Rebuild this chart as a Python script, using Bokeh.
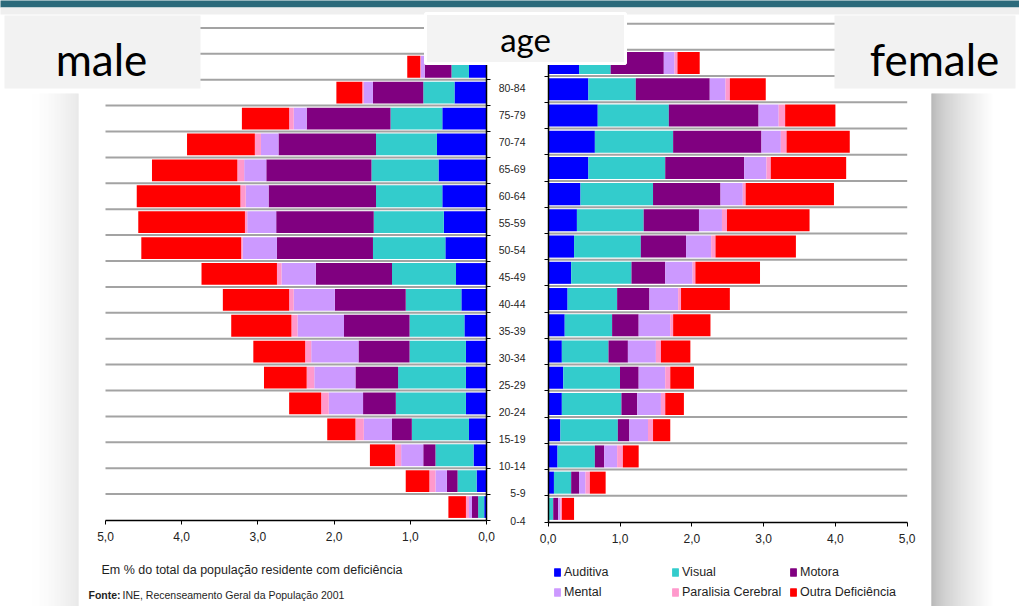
import numpy as np
from bokeh.plotting import figure
from bokeh.models import (Range1d, LinearAxis, FixedTicker, CustomJSTickFormatter,
                          ColumnDataSource, Legend, LegendItem)
from bokeh.core.properties import value
from bokeh.embed import file_html
from bokeh.resources import INLINE

# ---------------- data ----------------
ages = ["0-4", "5-9", "10-14", "15-19", "20-24", "25-29", "30-34", "35-39", "40-44",
        "45-49", "50-54", "55-59", "60-64", "65-69", "70-74", "75-79", "80-84", "85-89"]
series = ["Auditiva", "Visual", "Motora", "Mental", "Paralisia Cerebral", "Outra Deficiência"]
colors = ["#0000ff", "#33cccc", "#800080", "#cc99ff", "#ff99cc", "#ff0000"]
x_ticks = [0, 1, 2, 3, 4, 5]
x_tick_labels = ["0,0", "1,0", "2,0", "3,0", "4,0", "5,0"]

male_auditiva  = [0.03, 0.13, 0.17, 0.23, 0.27, 0.27, 0.27, 0.29, 0.33, 0.40, 0.54, 0.56, 0.58, 0.63, 0.65, 0.58, 0.42, 0.23]
male_visual    = [0.08, 0.25, 0.50, 0.75, 0.92, 0.89, 0.74, 0.72, 0.73, 0.84, 0.95, 0.92, 0.87, 0.88, 0.80, 0.68, 0.41, 0.23]
male_motora    = [0.08, 0.14, 0.16, 0.26, 0.43, 0.56, 0.67, 0.86, 0.93, 1.00, 1.26, 1.28, 1.41, 1.38, 1.28, 1.10, 0.66, 0.35]
male_mental    = [0.04, 0.15, 0.29, 0.37, 0.45, 0.54, 0.62, 0.61, 0.54, 0.45, 0.45, 0.38, 0.30, 0.29, 0.23, 0.17, 0.12, 0.05]
male_paralisia = [0.04, 0.08, 0.08, 0.11, 0.10, 0.10, 0.08, 0.08, 0.06, 0.06, 0.02, 0.03, 0.07, 0.09, 0.08, 0.06, 0.02, 0.01]
male_outra     = [0.23, 0.31, 0.33, 0.37, 0.42, 0.56, 0.68, 0.79, 0.87, 0.99, 1.31, 1.40, 1.36, 1.12, 0.89, 0.62, 0.34, 0.17]

female_auditiva  = [0.01, 0.08, 0.13, 0.17, 0.19, 0.21, 0.19, 0.23, 0.27, 0.32, 0.36, 0.40, 0.45, 0.56, 0.65, 0.69, 0.56, 0.43]
female_visual    = [0.06, 0.24, 0.52, 0.80, 0.83, 0.79, 0.65, 0.66, 0.69, 0.84, 0.93, 0.93, 1.01, 1.07, 1.09, 0.99, 0.66, 0.44]
female_motora    = [0.07, 0.11, 0.13, 0.16, 0.22, 0.26, 0.27, 0.37, 0.45, 0.47, 0.63, 0.77, 0.94, 1.10, 1.23, 1.25, 1.03, 0.74]
female_mental    = [0.03, 0.09, 0.18, 0.26, 0.33, 0.37, 0.39, 0.44, 0.40, 0.38, 0.35, 0.32, 0.31, 0.31, 0.27, 0.28, 0.22, 0.15]
female_paralisia = [0.02, 0.06, 0.08, 0.07, 0.06, 0.07, 0.07, 0.04, 0.04, 0.04, 0.06, 0.07, 0.04, 0.06, 0.08, 0.09, 0.06, 0.04]
female_outra     = [0.17, 0.22, 0.22, 0.24, 0.26, 0.33, 0.41, 0.52, 0.68, 0.90, 1.12, 1.15, 1.23, 1.05, 0.88, 0.70, 0.50, 0.31]

male = [male_auditiva, male_visual, male_motora, male_mental, male_paralisia, male_outra]
female = [female_auditiva, female_visual, female_motora, female_mental, female_paralisia, female_outra]

# ---------------- layout (pixel anchors of the page) ----------------
W, H = 1019, 606
L0, L5 = 486.0, 105.0          # left panel: x pixel of 0 and of 5
R0, R5 = 547.7, 906.7          # right panel: x pixel of 0 and of 5
LB, LS = 519.5, 25.9           # left panel: baseline y pixel, row pitch
RB, RS = 521.5, 26.23          # right panel
TB, TS = 520.0, 27.04          # age labels column
SANS = value("Liberation Sans")
TITLEF = value("Lato")

kL = (L0 - L5) / 5.0
kR = (R5 - R0) / 5.0

p = figure(width=W, height=H, x_range=Range1d(0, W), y_range=Range1d(H, 0),
           x_axis_type=None, y_axis_type=None, toolbar_location=None,
           output_backend="svg", min_border=0, title=None)
p.outline_line_color = None
p.background_fill_color = "white"
p.border_fill_color = "white"

p.extra_x_ranges = {
    "L": Range1d(start=(0 - L0) / kL, end=(W - L0) / kL),
    "R": Range1d(start=(0 - R0) / kR, end=(W - R0) / kR),
}
p.extra_y_ranges = {
    "ageL": Range1d(start=(LB - H) / LS - 0.5, end=LB / LS - 0.5),
    "ageR": Range1d(start=(RB - H) / RS - 0.5, end=RB / RS - 0.5),
    "lab": Range1d(start=(TB - H) / TS, end=TB / TS),
}

n = len(ages)
idx = list(range(n))

# ---------------- page decoration: side shadows ----------------
gl, gr, gc = [], [], []
for px in range(0, 78):
    t = max(0.0, (px - 28) / 50.0)
    g = int(round(255 - 30 * t ** 1.6))
    gl.append(px); gr.append(px + 1); gc.append("#%02x%02x%02x" % (g, g, g))
for px in range(931, W):
    t = min(1.0, (px - 931) / 62.0)
    g = int(round(158 + 97 * t ** 0.65))
    gl.append(px); gr.append(px + 1); gc.append("#%02x%02x%02x" % (g, g, g))
p.quad(left=gl, right=gr, top=93, bottom=H, fill_color=gc, line_color=None)

# ---------------- gridlines ----------------
bL = [k - 0.5 for k in range(1, n + 2)]
p.segment(x0=-5, x1=0, y0=bL, y1=bL, line_color="#a3a3a3", line_width=2,
          x_range_name="L", y_range_name="ageL")
p.segment(x0=0, x1=5, y0=bL, y1=bL, line_color="#a3a3a3", line_width=2,
          x_range_name="R", y_range_name="ageR")

# ---------------- bars ----------------
dataL = {"idx": idx}
dataR = {"idx": idx}
for name, m, f in zip(series, male, female):
    dataL[name] = [-v for v in m]
    dataR[name] = list(f)
srcL = ColumnDataSource(dataL)
srcR = ColumnDataSource(dataR)
rendL = p.hbar_stack(series, y="idx", height=0.84, fill_color=colors, line_color=None,
                     source=srcL, x_range_name="L", y_range_name="ageL")
rendR = p.hbar_stack(series, y="idx", height=0.84, fill_color=colors, line_color=None,
                     source=srcR, x_range_name="R", y_range_name="ageR")

# ---------------- age labels ----------------
p.text(x=[525] * n, y=idx, text=ages, y_range_name="lab", text_align="right",
       text_baseline="middle", text_font=SANS, text_font_size="10.5px", text_color="#262626")

# ---------------- axes ----------------
def style_x(ax):
    ax.axis_line_color = "black"
    ax.axis_line_width = 1.5
    ax.major_tick_line_color = "black"
    ax.major_tick_out = 4
    ax.major_tick_in = 0
    ax.minor_tick_line_color = None
    ax.major_label_text_font = "Liberation Sans"
    ax.major_label_text_font_size = "12px"
    ax.major_label_text_color = "#222222"
    ax.major_label_standoff = 8

axL = LinearAxis(x_range_name="L", y_range_name="ageL", fixed_location=-0.5,
                 bounds=(-5, 0), ticker=FixedTicker(ticks=[-t for t in x_ticks]),
                 major_label_overrides={-t: lab for t, lab in zip(x_ticks, x_tick_labels)})
style_x(axL)
p.add_layout(axL, "below")
axR = LinearAxis(x_range_name="R", y_range_name="ageR", fixed_location=-0.5,
                 bounds=(0, 5), ticker=FixedTicker(ticks=x_ticks),
                 major_label_overrides={t: lab for t, lab in zip(x_ticks, x_tick_labels)})
style_x(axR)
p.add_layout(axR, "below")

ayL = LinearAxis(x_range_name="L", y_range_name="ageL", fixed_location=0,
                 bounds=(-0.5, n + 0.5), ticker=FixedTicker(ticks=[-0.5] + bL),
                 formatter=CustomJSTickFormatter(code="return '';"))
ayR = LinearAxis(x_range_name="R", y_range_name="ageR", fixed_location=0,
                 bounds=(-0.5, n + 0.5), ticker=FixedTicker(ticks=[-0.5] + bL),
                 formatter=CustomJSTickFormatter(code="return '';"))
for ay in (ayL, ayR):
    ay.axis_line_color = "black"
    ay.axis_line_width = 1.5
    ay.major_tick_line_color = "black"
    ay.major_tick_out = 4
    ay.major_tick_in = 0
    ay.minor_tick_line_color = None
p.add_layout(ayL, "right")
p.add_layout(ayR, "left")

# ---------------- captions ----------------
p.text(x=[101], y=[569], text=["Em % do total da população residente com deficiência"],
       text_baseline="middle", text_font=SANS, text_font_size="12.5px", text_color="#1e1e1e")
p.text(x=[88], y=[594], text=["Fonte:"], text_baseline="middle", text_font=SANS,
       text_font_size="10.5px", text_font_style="bold", text_color="#1e1e1e")
p.text(x=[122], y=[594], text=["INE, Recenseamento Geral da População 2001"],
       text_baseline="middle", text_font=SANS, text_font_size="10.5px", text_color="#1e1e1e")

# ---------------- legend ----------------
items = [LegendItem(label=name, renderers=[rl, rr]) for name, rl, rr in zip(series, rendL, rendR)]
legend = Legend(items=items, location=(553, 7), orientation="horizontal", ncols=3,
                glyph_width=8, glyph_height=10, label_standoff=3, label_width=102,
                label_height=15, spacing=5, padding=0, margin=0,
                border_line_color=None, background_fill_alpha=0,
                label_text_font="Liberation Sans", label_text_font_size="12.5px",
                label_text_color="#1e1e1e")
p.add_layout(legend)

# ---------------- slide overlays ----------------
p.quad(left=0, right=W, top=0, bottom=7, fill_color="#2b6a7b", line_color=None, level="overlay")
p.quad(left=0, right=W, top=7, bottom=14, fill_color="#efefef", line_color=None, level="overlay")
p.quad(left=4, right=200, top=15, bottom=88, fill_color="#f2f2f2", line_color=None, level="overlay")
p.quad(left=834, right=1015, top=15, bottom=88, fill_color="#f2f2f2", line_color=None, level="overlay")
p.quad(left=425, right=625, top=13, bottom=63, fill_color="#f3f3f3", line_color="white",
       line_width=3, level="overlay")
p.text(x=[101], y=[58], text=["male"], text_align="center", text_baseline="middle",
       text_font=TITLEF, text_font_size="44px", text_color="black", level="overlay")
p.text(x=[934], y=[58], text=["female"], text_align="center", text_baseline="middle",
       text_font=TITLEF, text_font_size="44px", text_color="black", level="overlay")
p.text(x=[525], y=[38], text=["age"], text_align="center", text_baseline="middle",
       text_font=TITLEF, text_font_size="33px", text_color="black", level="overlay")

open("out.html", "w").write(file_html(p, INLINE))
